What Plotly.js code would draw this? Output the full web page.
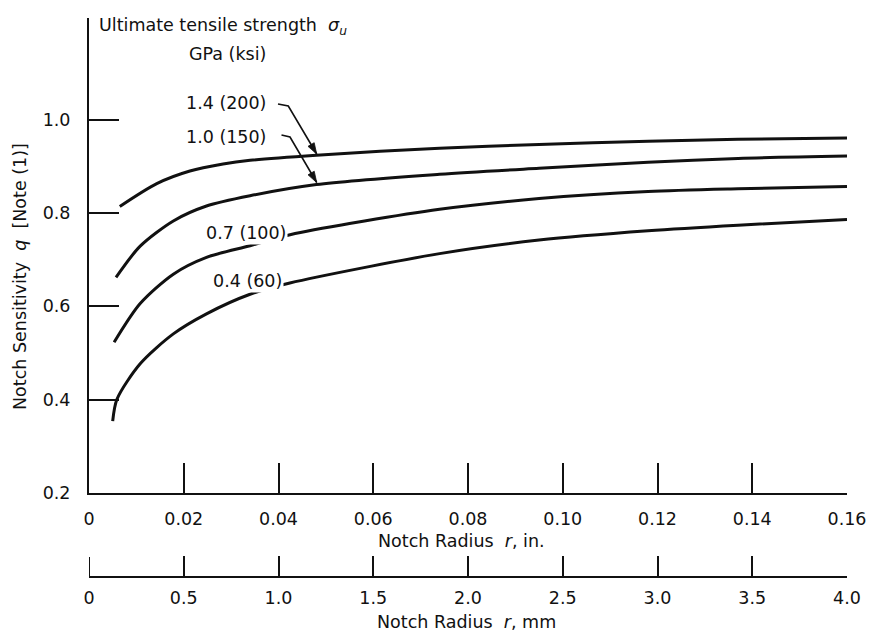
<!DOCTYPE html>
<html>
<head>
<meta charset="utf-8">
<script src="https://cdn.plot.ly/plotly-3.0.1.min.js"></script>
<style>html,body{margin:0;padding:0;background:#fff;}#chart{width:869px;height:632px;}</style>
</head>
<body>
<div id="chart"></div>
<script>
// Notch radius r (in.) and notch sensitivity q for each ultimate tensile strength
const seriesNames = ['1.4 (200)', '1.0 (150)', '0.7 (100)', '0.4 (60)'];
const xIn14 = [0.0065, 0.0143, 0.0213, 0.0283, 0.034, 0.048, 0.074, 0.095, 0.118, 0.137, 0.160];
const q14   = [0.814, 0.863, 0.890, 0.905, 0.913, 0.924, 0.939, 0.947, 0.954, 0.958, 0.961];
const xIn10 = [0.0057, 0.0108, 0.0178, 0.0248, 0.034, 0.048, 0.074, 0.095, 0.118, 0.137, 0.160];
const q10   = [0.662, 0.729, 0.783, 0.815, 0.837, 0.861, 0.883, 0.896, 0.909, 0.917, 0.922];
const xIn07 = [0.0053, 0.0108, 0.0178, 0.0248, 0.034, 0.0435, 0.074, 0.095, 0.118, 0.137, 0.160];
const q07   = [0.523, 0.606, 0.669, 0.705, 0.730, 0.756, 0.808, 0.831, 0.846, 0.852, 0.857];
const xIn04 = [0.005, 0.0059, 0.0108, 0.0178, 0.0248, 0.034, 0.0424, 0.074, 0.095, 0.118, 0.137, 0.160];
const q04   = [0.354, 0.401, 0.477, 0.541, 0.584, 0.626, 0.650, 0.713, 0.742, 0.762, 0.774, 0.786];

const inTicks  = [0, 0.02, 0.04, 0.06, 0.08, 0.10, 0.12, 0.14, 0.16];
const inLabels = ['0', '0.02', '0.04', '0.06', '0.08', '0.10', '0.12', '0.14', '0.16'];
const mmTicks  = [0, 0.5, 1.0, 1.5, 2.0, 2.5, 3.0, 3.5, 4.0];
const mmLabels = ['0', '0.5', '1.0', '1.5', '2.0', '2.5', '3.0', '3.5', '4.0'];
const qTicks   = [0.2, 0.4, 0.6, 0.8, 1.0];
const qLabels  = ['0.2', '0.4', '0.6', '0.8', '1.0'];

const FONT = 'DejaVu Sans, Liberation Sans, sans-serif';
const INK = '#111';
const FS = 17.5;

function curve(x, y) {
  return {x: x, y: y, type: 'scatter', mode: 'lines',
    line: {color: INK, width: 3, shape: 'spline', smoothing: 0.8},
    hoverinfo: 'skip', showlegend: false, xaxis: 'x', yaxis: 'y'};
}
const traces = [curve(xIn14, q14), curve(xIn10, q10), curve(xIn07, q07), curve(xIn04, q04),
  {x: [mmTicks[0], mmTicks[mmTicks.length - 1]], y: [qTicks[0], qTicks[0]], type: 'scatter', mode: 'none',
   hoverinfo: 'skip', showlegend: false, xaxis: 'x2', yaxis: 'y'}];

// pixel helpers for annotation placement (plot area 89..847 x, 18..577 y)
const px = v => (v - 89) / 758;
const py = v => (577 - v) / 559;

function label(text, xr, yc, extra) {
  return Object.assign({text: text, xref: 'paper', yref: 'paper', x: px(xr), y: py(yc),
    xanchor: 'right', yanchor: 'middle', showarrow: false,
    font: {family: FONT, size: FS, color: INK}}, extra || {});
}

const annotations = [
  label('Ultimate tensile strength  <i>σ<sub>u</sub></i>', 97, 27, {xanchor: 'left'}),
  label('GPa (ksi)', 227, 54, {xanchor: 'center'}),
  label(seriesNames[0], 268, 103),
  label(seriesNames[1], 268, 137),
  label(seriesNames[2], 288, 233, {bgcolor: '#fff', borderpad: 1}),
  label(seriesNames[3], 284, 281, {bgcolor: '#fff', borderpad: 1}),
  label('Notch Radius  <i>r</i>, in.', 461, 541, {xanchor: 'center'}),
  label('Notch Radius  <i>r</i>, mm', 466, 622, {xanchor: 'center'}),
  label('Notch Sensitivity  <i>q</i>  [Note (1)]', 20, 277, {xanchor: 'center', textangle: -90})
];

// leader lines with arrowheads (pixel points: start, kink, tip)
function leader(pts) {
  const p = pts.map(([a, b]) => [px(a), py(b)]);
  const path = 'M' + p.map(q => q[0] + ',' + q[1]).join(' L');
  const [kx, ky] = pts[pts.length - 2], [tx, ty] = pts[pts.length - 1];
  const dx = tx - kx, dy = ty - ky, L = Math.hypot(dx, dy), ux = dx / L, uy = dy / L;
  const hl = 11, hw = 3.6, bx = tx - hl * ux, by = ty - hl * uy;
  const h1 = [bx - hw * uy, by + hw * ux], h2 = [bx + hw * uy, by - hw * ux];
  const head = 'M' + px(tx) + ',' + py(ty) + ' L' + px(h1[0]) + ',' + py(h1[1]) +
    ' L' + px(h2[0]) + ',' + py(h2[1]) + ' Z';
  return [
    {type: 'path', xref: 'paper', yref: 'paper', path: path, line: {color: INK, width: 1.6}},
    {type: 'path', xref: 'paper', yref: 'paper', path: head, fillcolor: INK, line: {color: INK, width: 0.8}}
  ];
}

const shapes = [].concat(
  leader([[278, 104], [288.3, 106], [316.7, 154]]),
  leader([[281.5, 135], [290, 137], [316.7, 182.5]]),
  [{type: 'line', xref: 'x2', yref: 'paper', x0: mmTicks[0], x1: mmTicks[0], y0: 0, y1: 20 / 559,
    line: {color: INK, width: 2}}]
);

const layout = {
  width: 869, height: 632,
  margin: {l: 89, r: 22, t: 18, b: 55, pad: 0},
  paper_bgcolor: '#fff', plot_bgcolor: '#fff',
  font: {family: FONT, size: FS, color: INK},
  showlegend: false,
  xaxis: {range: [0, 0.16], anchor: 'y', tickvals: inTicks, ticktext: inLabels,
    ticks: 'inside', ticklen: 30, tickwidth: 2, tickcolor: INK,
    showline: true, linecolor: INK, linewidth: 2, showgrid: false, zeroline: false,
    ticklabelstandoff: 9, tickfont: {family: FONT, size: FS, color: INK}, fixedrange: true},
  xaxis2: {range: [0, 4], overlaying: 'x', anchor: 'free', position: 0, side: 'bottom',
    tickvals: mmTicks, ticktext: mmLabels,
    ticks: 'inside', ticklen: 20, tickwidth: 2, tickcolor: INK,
    showline: true, linecolor: INK, linewidth: 2, showgrid: false, zeroline: false,
    ticklabelstandoff: 5, tickfont: {family: FONT, size: FS, color: INK}, fixedrange: true},
  yaxis: {range: [0.2, 1.218], domain: [0.1503, 1], anchor: 'x', tickvals: qTicks, ticktext: qLabels,
    ticks: 'inside', ticklen: 30, tickwidth: 2, tickcolor: INK,
    showline: true, linecolor: INK, linewidth: 2, showgrid: false, zeroline: false,
    ticklabelstandoff: 13, tickfont: {family: FONT, size: FS, color: INK}, fixedrange: true},
  annotations: annotations,
  shapes: shapes
};

Plotly.newPlot('chart', traces, layout, {staticPlot: true, displayModeBar: false});
</script>
</body>
</html>
